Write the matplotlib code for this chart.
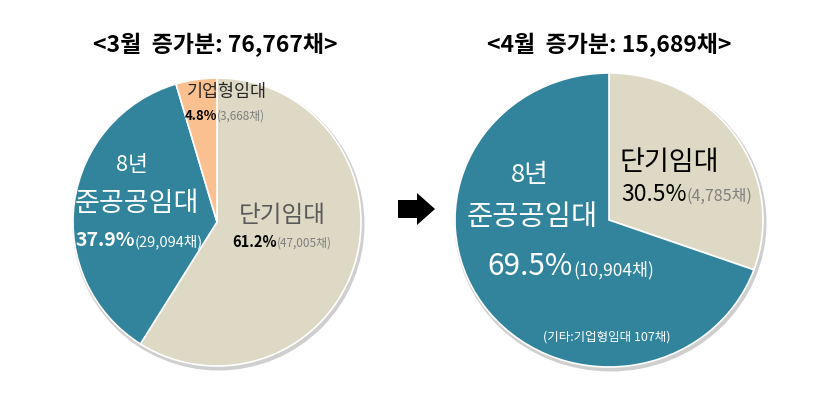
import matplotlib.pyplot as plt
import matplotlib.patches as mpatches
from matplotlib.transforms import Affine2D

plt.rcParams['font.family'] = ['Noto Sans CJK KR', 'DejaVu Sans']

# 3월 / 4월 증가분 (채)
mar_total = 76767
mar_labels = ['단기임대', '8년 준공공임대', '기업형임대']
mar_counts = [47005, 29094, 3668]
mar_pcts = ['61.2%', '37.9%', '4.8%']
apr_total = 15689
apr_labels = ['단기임대', '8년 준공공임대']
apr_counts = [4785, 10904]
apr_pcts = ['30.5%', '69.5%']
etc_count = 107

beige = '#DDD9C4'
teal = '#31849B'
orange = '#FAC090'
gray = '#7F7F7F'

fig = plt.figure(figsize=(8.29, 4.12), dpi=100)
ax = fig.add_axes([0, 0, 1, 1])
ax.axis('off')


def draw_pie(counts, colors, cx, cy, rx, ry):
    # shadow
    sh = mpatches.Ellipse((cx + 1.5, cy + 2.5), 2 * rx + 4, 2 * ry + 4,
                          color='#CFCFCF', zorder=0, lw=0)
    ax.add_patch(sh)
    wedges, _ = ax.pie(counts, colors=colors, startangle=90, counterclock=False,
                       radius=1, center=(0, 0),
                       wedgeprops=dict(edgecolor='white', linewidth=1.2))
    tr = Affine2D().scale(rx, -ry).translate(cx, cy) + ax.transData
    for w in wedges:
        w.set_transform(tr)
        w.set_zorder(1)


draw_pie(mar_counts, [beige, teal, orange], 217, 222, 144, 144)
draw_pie(apr_counts, [beige, teal], 609, 220, 154, 147)
ax.set_xlim(0, 829)
ax.set_ylim(412, 0)
ax.set_aspect('auto')

# titles
ax.text(215, 45, '<3월  증가분: %s채>' % format(mar_total, ','),
        ha='center', va='center', fontsize=16.5, fontweight='bold')
ax.text(609, 45, '<4월  증가분: %s채>' % format(apr_total, ','),
        ha='center', va='center', fontsize=16.5, fontweight='bold')


def pct_line(x, y, pct, cnt, c1, c2, s1, s2, bold=False):
    ax.text(x, y, pct, ha='right', va='baseline', color=c1, fontsize=s1,
            fontweight='bold' if bold else 'normal', zorder=3)
    ax.text(x, y, '(%s채)' % format(cnt, ','), ha='left', va='baseline',
            color=c2, fontsize=s2, zorder=3)


# left pie labels
ax.text(227, 92, mar_labels[2], ha='center', va='center', fontsize=12.5, color='#262626', zorder=3)
pct_line(217, 120, mar_pcts[2], mar_counts[2], 'black', gray, 9.5, 8.5, bold=True)
ax.text(132, 165, '8년', ha='center', va='center', fontsize=15.5, color='white', zorder=3)
ax.text(137, 203, '준공공임대', ha='center', va='center', fontsize=19.5, color='white', zorder=3)
pct_line(135, 246, mar_pcts[1], mar_counts[1], 'white', 'white', 14, 10.5, bold=True)
ax.text(282, 215, mar_labels[0], ha='center', va='center', fontsize=17, color='#595959', zorder=3)
pct_line(277, 247, mar_pcts[0], mar_counts[0], 'black', gray, 10.5, 8.5, bold=True)

# right pie labels
ax.text(669, 162, apr_labels[0], ha='center', va='center', fontsize=19.5, color='black', zorder=3)
pct_line(687, 201, apr_pcts[0], apr_counts[0], 'black', gray, 16.5, 11.5)
ax.text(530, 175, '8년', ha='center', va='center', fontsize=18.5, color='white', zorder=3)
ax.text(532, 217, '준공공임대', ha='center', va='center', fontsize=20.5, color='white', zorder=3)
pct_line(573, 275, apr_pcts[1], apr_counts[1], 'white', 'white', 21.5, 12.5)
ax.text(607, 337, '(기타:기업형임대 %d채)' % etc_count, ha='center', va='center',
        fontsize=9, color='white', zorder=3)

# arrow
ax.add_patch(mpatches.Polygon([(398, 200), (417, 200), (417, 193), (435, 209),
                               (417, 225), (417, 218), (398, 218)],
                              closed=True, color='black', lw=0))

fig.savefig('out.png', dpi=100)
